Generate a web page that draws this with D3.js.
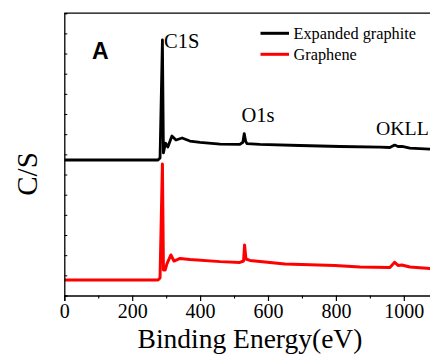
<!DOCTYPE html>
<html>
<head>
<meta charset="utf-8">
<script src="https://cdn.jsdelivr.net/npm/d3@7/dist/d3.min.js"></script>
<style>
  html, body { margin: 0; padding: 0; background: #fff; }
  svg { display: block; }
</style>
</head>
<body>
<svg id="chart" width="430" height="354"></svg>
<script>
// XPS survey spectra: binding energy (eV) vs. intensity (C/S, offset)
const expEnergy = [0, 276, 282, 289, 292, 298, 305, 317, 329, 347, 370, 400, 459, 517, 526, 530, 534, 538, 576, 694, 812, 930, 959, 973, 983, 995, 1018, 1077, 1100];
const expCounts = [67.2, 67.2, 68.2, 126.7, 70.7, 75.6, 73.6, 79.1, 77.1, 78.1, 76.6, 75.9, 75.1, 74.9, 76.0, 80.3, 76.6, 75.3, 74.9, 74.4, 73.9, 73.6, 73.4, 74.6, 73.9, 73.9, 73.1, 72.6, 72.4];

const grEnergy = [0, 276, 282, 289, 292, 297, 302, 314, 323, 341, 370, 459, 517, 528, 531, 535, 547, 650, 797, 871, 959, 973, 983, 994, 1018, 1077, 1100];
const grCounts = [7.7, 7.7, 8.7, 65.2, 12.6, 12.6, 15.6, 20.1, 17.1, 18.4, 17.8, 16.8, 16.4, 17.1, 25.0, 18.1, 17.4, 15.6, 14.9, 14.1, 13.9, 16.5, 14.9, 15.1, 14.1, 13.4, 13.2];

const xTicks = [0, 200, 400, 600, 800, 1000];
const xMinorTicks = [100, 300, 500, 700, 900, 1100];
const yTicks = d3.range(0, 141, 10);

const seriesNames = ["Expanded graphite", "Graphene"];
const seriesColors = ["#000000", "#ff0000"];

const peakLabels = [
  { text: "C1S", x: 164, y: 47.5, size: 20.5 },
  { text: "O1s", x: 241.5, y: 121.5, size: 20.5 },
  { text: "OKLL", x: 376, y: 135, size: 19.8 }
];

const svg = d3.select("#chart");
const plotLeft = 64.3, plotTop = 13.2, plotBottom = 295.5;
const x = d3.scaleLinear().domain([0, 1100]).range([plotLeft, plotLeft + 1100 * 0.3395]);
const y = d3.scaleLinear().domain([0, 140]).range([plotBottom, plotTop]);

const serif = "'Liberation Serif', 'Times New Roman', serif";

// curves
const line = d3.line().x(d => x(d[0])).y(d => y(d[1]));
const expData = expEnergy.map((e, i) => [e, expCounts[i]]);
const grData = grEnergy.map((e, i) => [e, grCounts[i]]);

svg.append("defs").append("clipPath").attr("id", "plotclip")
  .append("rect").attr("x", plotLeft).attr("y", plotTop)
  .attr("width", 400).attr("height", plotBottom - plotTop);

const g = svg.append("g").attr("clip-path", "url(#plotclip)");
g.append("path").datum(grData).attr("d", line)
  .attr("fill", "none").attr("stroke", seriesColors[1]).attr("stroke-width", 3)
  .attr("stroke-linejoin", "round");
g.append("path").datum(expData).attr("d", line)
  .attr("fill", "none").attr("stroke", seriesColors[0]).attr("stroke-width", 2.8)
  .attr("stroke-linejoin", "round");

// top frame line
svg.append("line").attr("x1", plotLeft).attr("x2", 440).attr("y1", plotTop).attr("y2", plotTop)
  .attr("stroke", "#000").attr("stroke-width", 1.3);

// x axis
const xAxis = d3.axisBottom(x).tickValues(xTicks).tickSize(5.5).tickPadding(3)
  .tickFormat(d3.format("d"));
const gx = svg.append("g").attr("transform", `translate(0,${plotBottom})`).call(xAxis);
gx.select(".domain").attr("stroke-width", 1.3);
gx.selectAll(".tick line").attr("stroke-width", 1.2);
gx.selectAll(".tick text").attr("font-family", serif).attr("font-size", 20).attr("fill", "#000");
const xMinor = d3.axisBottom(x).tickValues(xMinorTicks).tickSize(3).tickFormat("");
const gxm = svg.append("g").attr("transform", `translate(0,${plotBottom})`).call(xMinor);
gxm.select(".domain").remove();
gxm.selectAll(".tick line").attr("stroke-width", 1.1);

// y axis (ticks inward, no labels)
const yAxis = d3.axisLeft(y).tickValues(yTicks).tickSize(-3).tickFormat("");
const gy = svg.append("g").attr("transform", `translate(${plotLeft},0)`).call(yAxis);
gy.select(".domain").attr("stroke-width", 1.3);
gy.selectAll(".tick line").attr("stroke-width", 1);

// axis titles
svg.append("text").attr("x", 250).attr("y", 347.5)
  .attr("text-anchor", "middle").attr("font-family", serif).attr("font-size", 27.5)
  .text("Binding Energy(eV)");
svg.append("text").attr("transform", "translate(36.5,174) rotate(-90)")
  .attr("text-anchor", "middle").attr("font-family", serif).attr("font-size", 29)
  .text("C/S");

// panel letter
svg.append("text").attr("x", 92).attr("y", 59.3)
  .attr("font-family", "'Liberation Sans', Arial, sans-serif").attr("font-weight", "bold")
  .attr("font-size", 23).text("A");

// peak labels
svg.selectAll(".peak").data(peakLabels).enter().append("text")
  .attr("class", "peak").attr("x", d => d.x).attr("y", d => d.y)
  .attr("font-family", serif).attr("font-size", d => d.size).text(d => d.text);

// legend
const legend = svg.append("g");
seriesNames.forEach((name, i) => {
  const ly = 33.3 + i * 21;
  legend.append("line").attr("x1", 260.5).attr("x2", 289).attr("y1", ly).attr("y2", ly)
    .attr("stroke", seriesColors[i]).attr("stroke-width", 3);
  legend.append("text").attr("x", 293.5).attr("y", ly + 5.2)
    .attr("font-family", serif).attr("font-size", 16.3).text(name);
});
</script>
</body>
</html>
